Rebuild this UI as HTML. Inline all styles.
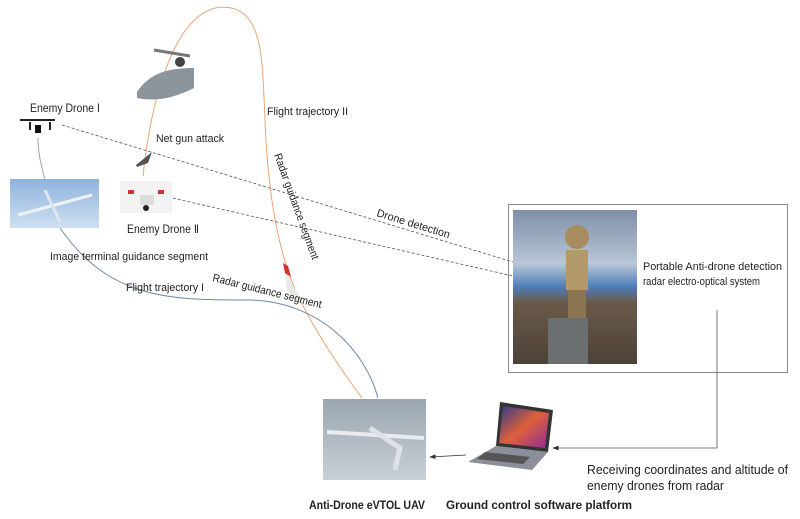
<!DOCTYPE html>
<html><head><meta charset="utf-8"><style>
html,body{margin:0;padding:0;background:#fff}
svg{display:block}
text{font-family:"Liberation Sans",sans-serif;fill:#222}
</style></head><body>
<svg width="800" height="519" viewBox="0 0 800 519" xmlns="http://www.w3.org/2000/svg">
<defs>
<linearGradient id="sky" x1="0" y1="0" x2="0" y2="1"><stop offset="0" stop-color="#8fb3dc"/><stop offset="1" stop-color="#cfe0f2"/></linearGradient>
<linearGradient id="sky2" x1="0" y1="0" x2="0" y2="1"><stop offset="0" stop-color="#9aa6b0"/><stop offset="1" stop-color="#c9d0d6"/></linearGradient>
<linearGradient id="rad" x1="0" y1="0" x2="0" y2="1"><stop offset="0" stop-color="#7f8fa8"/><stop offset="0.35" stop-color="#b9c6d6"/><stop offset="0.5" stop-color="#4d7db8"/><stop offset="0.6" stop-color="#6a5a48"/><stop offset="1" stop-color="#4c4238"/></linearGradient>
<linearGradient id="scr" x1="0" y1="0" x2="1" y2="1"><stop offset="0" stop-color="#2a3a8a"/><stop offset="0.5" stop-color="#e0603a"/><stop offset="1" stop-color="#8a2a9a"/></linearGradient>
<marker id="ar" markerWidth="8" markerHeight="6" refX="7" refY="3" orient="auto"><path d="M0,0 L8,3 L0,6 z" fill="#333"/></marker>
</defs>

<path d="M143,176 C150,110 170,20 215,8 C265,0 262,60 265,120 C268,200 280,260 300,300 C320,340 345,375 362,398" fill="none" stroke="#e7a67a" stroke-width="1"/>
<path d="M60,228 C110,300 170,300 250,300 C320,302 365,350 378,398" fill="none" stroke="#6d88a8" stroke-width="1"/>
<path d="M38,138 C38,155 42,168 45,180" fill="none" stroke="#9aa6b6" stroke-width="1"/>

<path d="M62,125 L513,262" stroke="#555" stroke-width="0.8" stroke-dasharray="3,2" fill="none"/>
<path d="M168,197 L513,276" stroke="#555" stroke-width="0.8" stroke-dasharray="3,2" fill="none"/>

<rect x="508.5" y="204.5" width="279" height="168" fill="none" stroke="#888" stroke-width="1"/>
<rect x="513" y="210" width="124" height="154" fill="url(#rad)"/>
<circle cx="577" cy="237" r="12" fill="#a68c5e"/>
<rect x="566" y="250" width="22" height="40" fill="#b49a6a"/>
<rect x="568" y="290" width="18" height="30" fill="#8a7550"/>
<rect x="548" y="318" width="40" height="46" fill="#6b6f72"/>
<text x="643" y="270" font-size="11" textLength="139" lengthAdjust="spacingAndGlyphs">Portable Anti-drone detection</text>
<text x="643" y="285" font-size="11" textLength="117" lengthAdjust="spacingAndGlyphs">radar electro-optical system</text>

<path d="M717,310 L717,448 L553,448" fill="none" stroke="#555" stroke-width="0.8" marker-end="url(#ar)"/>

<polygon points="500,402 553,410 548,452 496,446" fill="#333"/>
<polygon points="503,406 549,413 545,448 499,443" fill="url(#scr)"/>
<polygon points="496,446 548,452 532,470 468,462" fill="#8a8f99"/>
<polygon points="485,452 530,457 523,464 477,459" fill="#555"/>

<path d="M466,455 L430,457" stroke="#333" stroke-width="0.8" marker-end="url(#ar)"/>

<rect x="323" y="399" width="103" height="81" fill="url(#sky2)"/>
<path d="M327,432 L424,438" stroke="#e8ecef" stroke-width="4"/>
<path d="M370,428 L400,448 L395,470" stroke="#dde2e6" stroke-width="5" fill="none"/>

<rect x="10" y="179" width="89" height="49" fill="url(#sky)"/>
<path d="M18,215 L92,195" stroke="#eef2f5" stroke-width="3"/>
<path d="M45,190 L60,222" stroke="#dfe5ea" stroke-width="3"/>

<rect x="15" y="115" width="47" height="22" fill="#fff"/>
<path d="M20,120 L55,120 M30,122 L30,130 M50,122 L50,130" stroke="#222" stroke-width="2"/>
<rect x="35" y="125" width="6" height="8" fill="#111"/>

<rect x="120" y="181" width="52" height="32" fill="#f3f3f3"/>
<rect x="128" y="190" width="6" height="4" fill="#c33"/>
<rect x="158" y="190" width="6" height="4" fill="#c33"/>
<rect x="140" y="195" width="14" height="10" fill="#ddd"/>
<circle cx="146" cy="208" r="3" fill="#222"/>

<polygon points="136,165 152,152 148,163 137,167" fill="#555"/>

<path d="M137,92 C150,72 170,68 194,68 L194,88 C175,98 155,102 137,98 Z" fill="#8c949c"/>
<path d="M154,50 L190,56" stroke="#777" stroke-width="3"/>
<circle cx="180" cy="62" r="5" fill="#444"/>

<path d="M284,266 L293,286 L303,300 L298,303 L287,290 Z" fill="#e8e8e8"/>
<path d="M283,263 L288,266 L291,277 L285,273 Z" fill="#d0312d"/>

<text x="30" y="112" font-size="11.5" font-family="Liberation Serif" textLength="70" lengthAdjust="spacingAndGlyphs">Enemy Drone Ⅰ</text>
<text x="156" y="142" font-size="11" textLength="68" lengthAdjust="spacingAndGlyphs">Net gun attack</text>
<text x="267" y="115" font-size="11" textLength="81" lengthAdjust="spacingAndGlyphs">Flight trajectory II</text>
<text x="127" y="233" font-size="11.5" font-family="Liberation Serif" textLength="72" lengthAdjust="spacingAndGlyphs">Enemy Drone Ⅱ</text>
<text x="50" y="260" font-size="11" textLength="158" lengthAdjust="spacingAndGlyphs">Image terminal guidance segment</text>
<text x="126" y="291" font-size="11" textLength="78" lengthAdjust="spacingAndGlyphs">Flight trajectory I</text>
<text transform="translate(212,281) rotate(14)" font-size="11" textLength="112" lengthAdjust="spacingAndGlyphs">Radar guidance segment</text>
<text transform="translate(274,155) rotate(70)" font-size="11" textLength="112" lengthAdjust="spacingAndGlyphs">Radar guidance segment</text>
<text transform="translate(376,216) rotate(17)" font-size="11" textLength="76" lengthAdjust="spacingAndGlyphs">Drone detection</text>
<text x="587" y="474" font-size="12.5" textLength="201" lengthAdjust="spacingAndGlyphs">Receiving coordinates and altitude of</text>
<text x="587" y="490" font-size="12.5" textLength="137" lengthAdjust="spacingAndGlyphs">enemy drones from radar</text>
<text x="309" y="509" font-size="12" font-weight="bold" textLength="116" lengthAdjust="spacingAndGlyphs">Anti-Drone eVTOL UAV</text>
<text x="446" y="509" font-size="12" font-weight="bold" textLength="186" lengthAdjust="spacingAndGlyphs">Ground control software platform</text>
</svg>
</body></html>
